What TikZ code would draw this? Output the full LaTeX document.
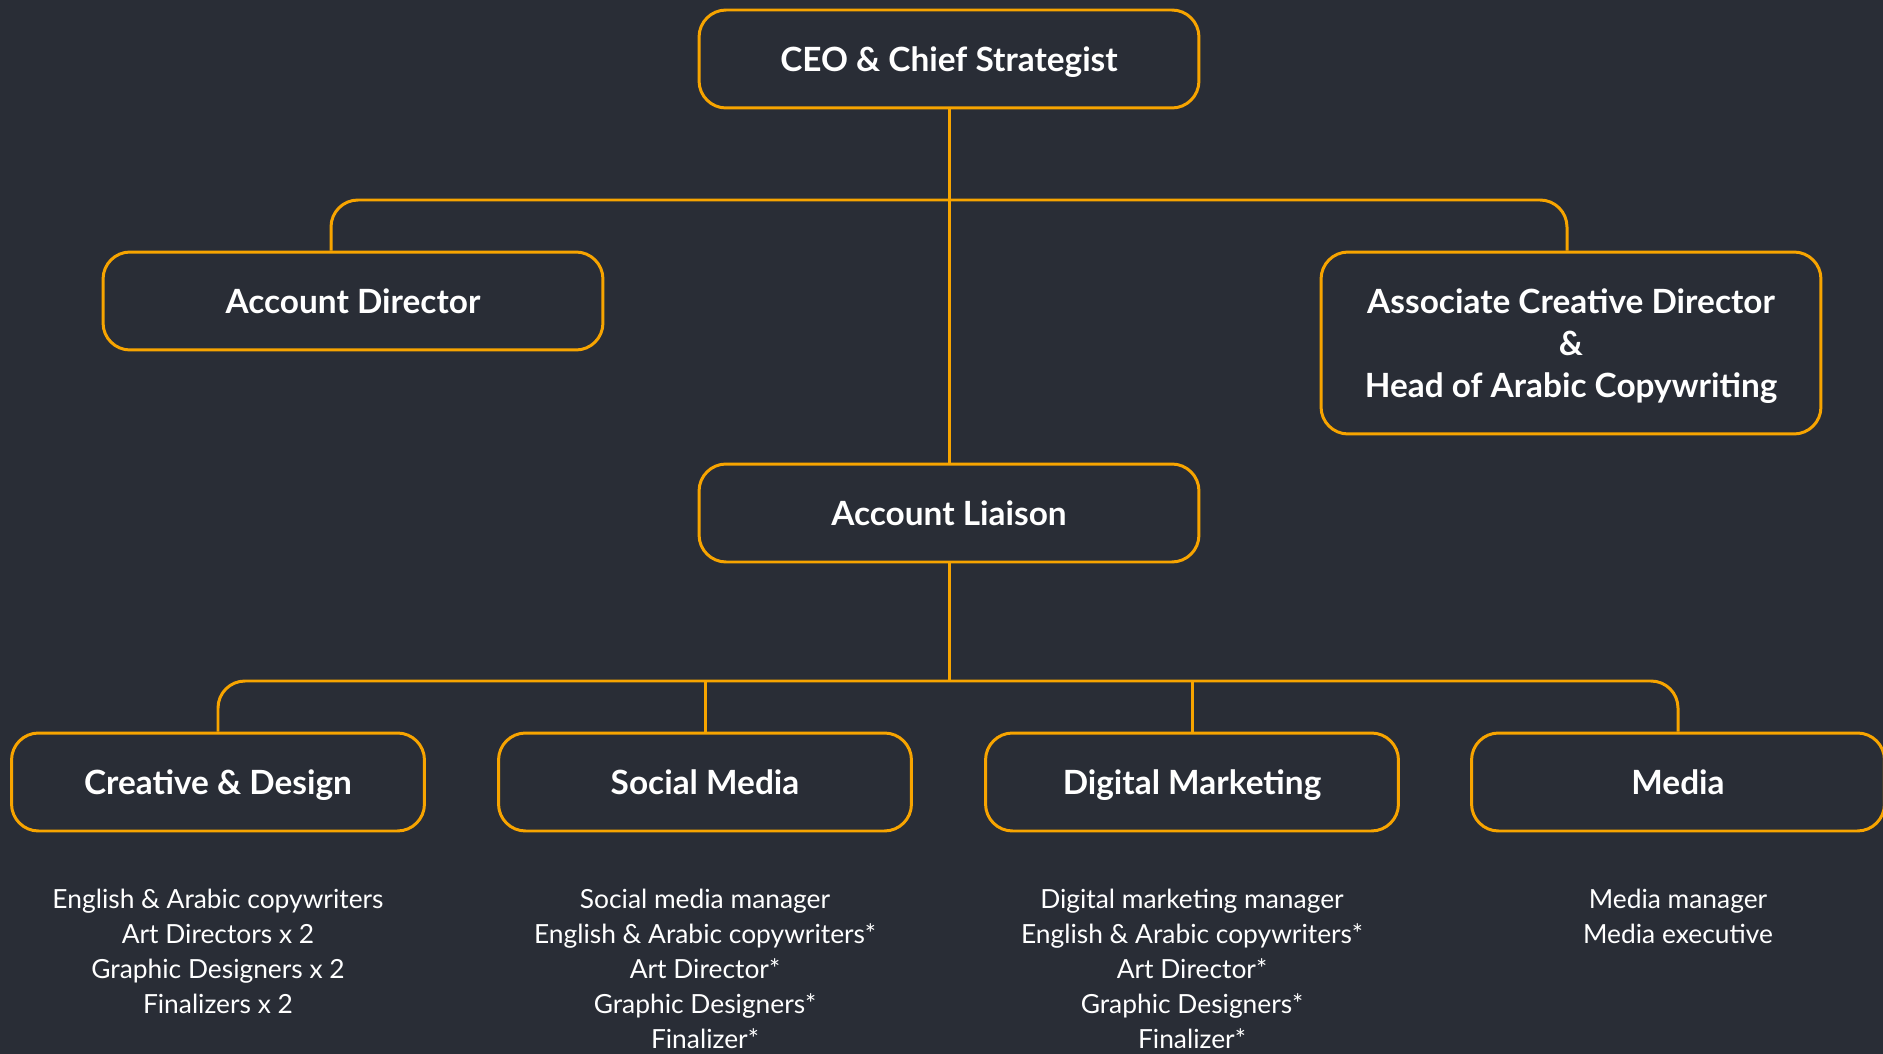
\documentclass[tikz,border=0pt]{standalone}
\usepackage{fontspec}
\setmainfont{Lato}
\usetikzlibrary{positioning}
\definecolor{bgdark}{HTML}{292D36}
\definecolor{amber}{HTML}{F7A400}
\begin{document}
\begin{tikzpicture}[x=0.02cm,y=-0.02cm,
    box/.style={draw=amber,line width=1.7pt,rounded corners=0.54cm,text=white,text depth=0pt,
      font=\bfseries\fontsize{19}{24}\selectfont,minimum width=10cm,minimum height=1.96cm,inner sep=0pt},
    team/.style={box,minimum width=8.26cm},
    staff/.style={text=white,align=center,inner sep=0pt,font=\fontsize{15}{19.9}\selectfont},
    link/.style={draw=amber,line width=1.7pt,rounded corners=0.54cm}]
        \fill[bgdark] (0,0) rectangle (1883,1054);
        \useasboundingbox (0,0) rectangle (1883,1054);
        \node[box] (ceo) at (949,59) {CEO \& Chief Strategist};
        \node[box] (ad) at (353,301) {Account Director};
        \node[box,minimum height=3.64cm,align=center] (acd) at (1571,343) {Associate Creative Director\\\&\\Head of Arabic Copywriting};
        \node[box] (al) at (949,513) {Account Liaison};
        \node[team] (cd) at (218,782) {Creative \& Design};
        \node[team] (sm) at (705,782) {Social Media};
        \node[team] (dm) at (1192,782) {Digital Marketing};
        \node[team] (md) at (1678,782) {Media};
        \node[staff,below=1.12cm of cd] (cdl) {English \& Arabic copywriters\\Art Directors x 2\\Graphic Designers x 2\\Finalizers x 2};
        \node[staff,below=1.12cm of sm] (sml) {Social media manager\\English \& Arabic copywriters*\\Art Director*\\Graphic Designers*\\Finalizer*};
        \node[staff,below=1.12cm of dm] (dml) {Digital marketing manager\\English \& Arabic copywriters*\\Art Director*\\Graphic Designers*\\Finalizer*};
        \node[staff,below=1.12cm of md] (mdl) {Media manager\\Media executive};
        \coordinate (jt) at (949,200);
        \coordinate (jb) at (949,681);
        \draw[link] (ceo) -- (al);
        \draw[link] ([xshift=-0.44cm]ad.north) |- (jt) -| ([xshift=-0.08cm]acd.north);
        \draw[link] (al) -- (jb);
        \draw[link] (cd.north) |- (jb) -| (md.north);
        \draw[link] (sm.north) -- (sm.north |- jb);
        \draw[link] (dm.north) -- (dm.north |- jb);
\end{tikzpicture}
\end{document}
